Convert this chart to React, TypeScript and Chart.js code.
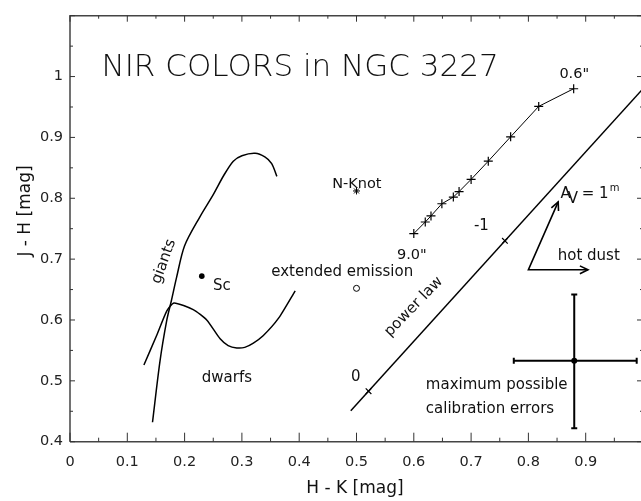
import React, { useEffect, useRef } from 'react';
import { Chart, registerables } from 'chart.js';
Chart.register(...registerables);

// ---- data ----
const xTickValues = [0, 0.1, 0.2, 0.3, 0.4, 0.5, 0.6, 0.7, 0.8, 0.9];
const yTickValues = [0.4, 0.5, 0.6, 0.7, 0.8, 0.9, 1.0];

const giantsX = [0.144, 0.157, 0.169, 0.177, 0.186, 0.2, 0.227, 0.25, 0.268, 0.285, 0.3, 0.323, 0.34, 0.352, 0.361];
const giantsY = [0.432, 0.532, 0.6, 0.632, 0.67, 0.722, 0.77, 0.806, 0.837, 0.861, 0.87, 0.874, 0.868, 0.857, 0.836];

const dwarfsX = [0.129, 0.151, 0.169, 0.1815, 0.215, 0.2386, 0.262, 0.276, 0.291, 0.305, 0.32, 0.337, 0.364, 0.393];
const dwarfsY = [0.526, 0.574, 0.615, 0.628, 0.617, 0.6, 0.569, 0.558, 0.554, 0.555, 0.562, 0.574, 0.603, 0.648];

const ngcX = [0.6, 0.62, 0.63, 0.649, 0.669, 0.679, 0.7, 0.73, 0.769, 0.818, 0.879];
const ngcY = [0.742, 0.761, 0.771, 0.791, 0.802, 0.811, 0.831, 0.861, 0.901, 0.951, 0.98];

const powerLawX = [0.49, 1.0];
const powerLawY = [0.451, 0.98];
const powerLawTickX = [0.521, 0.759];
const powerLawTickY = [0.483, 0.73];

const scPoint = [0.23, 0.672];
const nKnotPoint = [0.5, 0.812];
const extendedPoint = [0.5, 0.652];

const arrowStart = [0.8, 0.6825];
const reddeningEnd = [0.852, 0.794];
const hotDustEnd = [0.904, 0.6825];

const errCenter = [0.88, 0.533];
const errX = [0.7745, 0.989];
const errY = [0.422, 0.642];

const toPts = (xs: number[], ys: number[]) => xs.map((x, i) => ({ x, y: ys[i] }));

const FONT = '"DejaVu Sans", "Liberation Sans", sans-serif';

const overlay = {
  id: 'overlay',
  afterDatasetsDraw(chart: any) {
    const ctx = chart.ctx;
    const xs = chart.scales.x;
    const ys = chart.scales.y;
    const px = (v: number) => xs.getPixelForValue(v);
    const py = (v: number) => ys.getPixelForValue(v);
    const area = chart.chartArea;
    ctx.save();

    // frame
    ctx.strokeStyle = '#444';
    ctx.lineWidth = 1.5;
    ctx.beginPath();
    ctx.moveTo(area.left, area.bottom);
    ctx.lineTo(area.left, area.top);
    ctx.lineTo(area.right, area.top);
    ctx.lineTo(area.right, area.bottom);
    ctx.lineTo(area.left, area.bottom);
    ctx.stroke();

    // inward ticks
    ctx.lineWidth = 1;
    ctx.strokeStyle = '#333';
    ctx.beginPath();
    for (let i = 0; i <= 20; i++) {
      const v = i * 0.05;
      const major = i % 2 === 0;
      const x = px(v);
      ctx.moveTo(x, area.bottom);
      ctx.lineTo(x, area.bottom - (major ? 9 : 4));
      ctx.moveTo(x, area.top);
      ctx.lineTo(x, area.top + (major ? 6 : 3));
    }
    for (let i = 8; i <= 22; i++) {
      const v = i * 0.05;
      const major = i % 2 === 0;
      const y = py(v);
      ctx.moveTo(area.left, y);
      ctx.lineTo(area.left + (major ? 5 : 3), y);
      ctx.moveTo(area.right, y);
      ctx.lineTo(area.right - (major ? 6 : 3), y);
    }
    ctx.stroke();

    // arrows
    const arrowHead = (x0: number, y0: number, x1: number, y1: number) => {
      const a = Math.atan2(y1 - y0, x1 - x0);
      const L = 9, s = 0.45;
      ctx.beginPath();
      ctx.moveTo(x1 - L * Math.cos(a - s), y1 - L * Math.sin(a - s));
      ctx.lineTo(x1, y1);
      ctx.lineTo(x1 - L * Math.cos(a + s), y1 - L * Math.sin(a + s));
      ctx.stroke();
    };
    ctx.strokeStyle = '#000';
    ctx.lineWidth = 1.6;
    const sx = px(arrowStart[0]), sy = py(arrowStart[1]);
    const rx = px(reddeningEnd[0]), ry = py(reddeningEnd[1]);
    const hx = px(hotDustEnd[0]), hy = py(hotDustEnd[1]);
    ctx.beginPath();
    ctx.moveTo(rx, ry); ctx.lineTo(sx, sy); ctx.lineTo(hx, hy);
    ctx.stroke();
    arrowHead(sx, sy, rx, ry);
    arrowHead(sx, sy, hx, hy);

    // error bar caps
    ctx.lineWidth = 2;
    ctx.beginPath();
    const cx = px(errCenter[0]), cy = py(errCenter[1]);
    ctx.moveTo(px(errX[0]), cy - 3); ctx.lineTo(px(errX[0]), cy + 3);
    ctx.moveTo(px(errX[1]), cy - 3); ctx.lineTo(px(errX[1]), cy + 3);
    ctx.moveTo(cx - 3, py(errY[0])); ctx.lineTo(cx + 3, py(errY[0]));
    ctx.moveTo(cx - 3, py(errY[1])); ctx.lineTo(cx + 3, py(errY[1]));
    ctx.stroke();

    // texts
    const text = (s: string, x: number, y: number, size: number, align: CanvasTextAlign = 'left', rot = 0, base: CanvasTextBaseline = 'alphabetic', weight = 'normal') => {
      ctx.save();
      ctx.translate(px(x), py(y));
      if (rot) ctx.rotate((rot * Math.PI) / 180);
      ctx.font = `${weight} ${size}px ${FONT}`;
      ctx.fillStyle = '#111';
      ctx.textAlign = align;
      ctx.textBaseline = base;
      ctx.fillText(s, 0, 0);
      ctx.restore();
    };
    text('NIR COLORS in NGC 3227', 0.055, 1.001, 31, 'left', 0, 'alphabetic', '200');
    text('0.6"', 0.88, 0.9973, 14.5, 'center');
    text('N-Knot', 0.5006, 0.8168, 14.5, 'center');
    text('9.0"', 0.5965, 0.7005, 14.5, 'center');
    text('-1', 0.718, 0.7483, 15, 'center');
    text('0', 0.4989, 0.4998, 15, 'center');
    text('Sc', 0.2494, 0.6496, 15, 'left');
    text('dwarfs', 0.2739, 0.4982, 15, 'center');
    text('extended emission', 0.475, 0.6719, 15, 'center');
    text('hot dust', 0.8512, 0.699, 15, 'left');
    text('maximum possible', 0.621, 0.4871, 15, 'left');
    text('calibration errors', 0.621, 0.4473, 15, 'left');
    text('giants', 0.164, 0.696, 15, 'center', -70, 'middle');
    text('power law', 0.6, 0.6218, 15, 'center', -46, 'middle');

    // A_V = 1^m
    ctx.save();
    ctx.fillStyle = '#111';
    ctx.textAlign = 'left';
    ctx.textBaseline = 'alphabetic';
    let ax = px(0.856);
    const ab = py(0.8);
    ctx.font = `15px ${FONT}`;
    ctx.fillText('A', ax, ab);
    ax += ctx.measureText('A').width - 3;
    ctx.fillText('V', ax, ab + 5);
    ax += ctx.measureText('V').width - 1;
    ctx.fillText(' = 1', ax, ab);
    ax += ctx.measureText(' = 1').width + 1;
    ctx.font = `10px ${FONT}`;
    ctx.fillText('m', ax, ab - 7);
    ctx.restore();

    // axis titles
    ctx.save();
    ctx.fillStyle = '#111';
    ctx.font = `17px ${FONT}`;
    ctx.textAlign = 'center';
    ctx.textBaseline = 'alphabetic';
    ctx.fillText('H - K [mag]', 355, 493);
    ctx.translate(30, 211);
    ctx.rotate(-Math.PI / 2);
    ctx.fillText('J - H [mag]', 0, 0);
    ctx.restore();

    ctx.restore();
  },
};

export default function App() {
  const ref = useRef<HTMLCanvasElement | null>(null);
  useEffect(() => {
    if (!ref.current) return;
    const black = '#000';
    const chart = new Chart(ref.current, {
      type: 'scatter',
      data: {
        datasets: [
          { data: toPts(giantsX, giantsY), showLine: true, borderColor: black, borderWidth: 1.5, pointRadius: 0, tension: 0.3 },
          { data: toPts(dwarfsX, dwarfsY), showLine: true, borderColor: black, borderWidth: 1.5, pointRadius: 0, tension: 0.2 },
          { data: toPts(ngcX, ngcY), showLine: true, borderColor: black, borderWidth: 1, pointStyle: 'cross', pointRadius: 4.5, pointBorderWidth: 1.2, pointBorderColor: black },
          { data: toPts(powerLawX, powerLawY), showLine: true, borderColor: black, borderWidth: 1.5, pointRadius: 0 },
          { data: toPts(powerLawTickX, powerLawTickY), showLine: false, pointStyle: 'crossRot', pointRadius: 4, pointBorderWidth: 1.2, pointBorderColor: black },
          { data: [{ x: scPoint[0], y: scPoint[1] }], pointStyle: 'circle', pointRadius: 2.8, pointBackgroundColor: black, pointBorderColor: black, pointBorderWidth: 0 },
          { data: [{ x: nKnotPoint[0], y: nKnotPoint[1] }], pointStyle: 'star', pointRadius: 3.5, pointBorderColor: black, pointBorderWidth: 1 },
          { data: [{ x: extendedPoint[0], y: extendedPoint[1] }], pointStyle: 'circle', pointRadius: 3, pointBackgroundColor: '#fff', pointBorderColor: black, pointBorderWidth: 1 },
          { data: [{ x: errX[0], y: errCenter[1] }, { x: errX[1], y: errCenter[1] }], showLine: true, borderColor: black, borderWidth: 2, pointRadius: 0 },
          { data: [{ x: errCenter[0], y: errY[0] }, { x: errCenter[0], y: errY[1] }], showLine: true, borderColor: black, borderWidth: 2, pointRadius: 0 },
          { data: [{ x: errCenter[0], y: errCenter[1] }], pointStyle: 'circle', pointRadius: 3, pointBackgroundColor: black, pointBorderColor: black, pointBorderWidth: 0 },
        ],
      },
      options: {
        responsive: false,
        animation: false,
        events: [],
        layout: { padding: { left: 0, top: 2.2, right: 17, bottom: 0 } },
        plugins: { legend: { display: false }, tooltip: { enabled: false }, title: { display: false } },
        scales: {
          x: {
            type: 'linear',
            min: 0,
            max: 1,
            grid: { display: false, drawTicks: false },
            border: { display: false },
            afterBuildTicks: (s: any) => { s.ticks = xTickValues.map((v) => ({ value: v })); },
            afterFit: (s: any) => { s.height = 501 - 441.7; },
            ticks: {
              padding: 12,
              color: '#222',
              font: { family: FONT, size: 14.5 },
              maxRotation: 0,
              autoSkip: false,
              callback: (v: any) => String(+Number(v).toFixed(1)),
            },
          },
          y: {
            type: 'linear',
            min: 0.4,
            max: 1.1,
            grid: { display: false, drawTicks: false },
            border: { display: false },
            afterBuildTicks: (s: any) => { s.ticks = yTickValues.map((v) => ({ value: v })); },
            afterFit: (s: any) => { s.width = 70; },
            ticks: {
              padding: 7,
              color: '#222',
              font: { family: FONT, size: 14.5 },
              autoSkip: false,
              callback: (v: any) => String(+Number(v).toFixed(1)),
            },
          },
        },
      },
      plugins: [overlay],
    });
    return () => chart.destroy();
  }, []);
  return (
    <div style={{ position: 'absolute', left: 0, top: 0, width: 641, height: 501, overflow: 'hidden', background: '#fff' }}>
      <canvas ref={ref} width={660} height={501} style={{ width: 660, height: 501, display: 'block' }} />
    </div>
  );
}
